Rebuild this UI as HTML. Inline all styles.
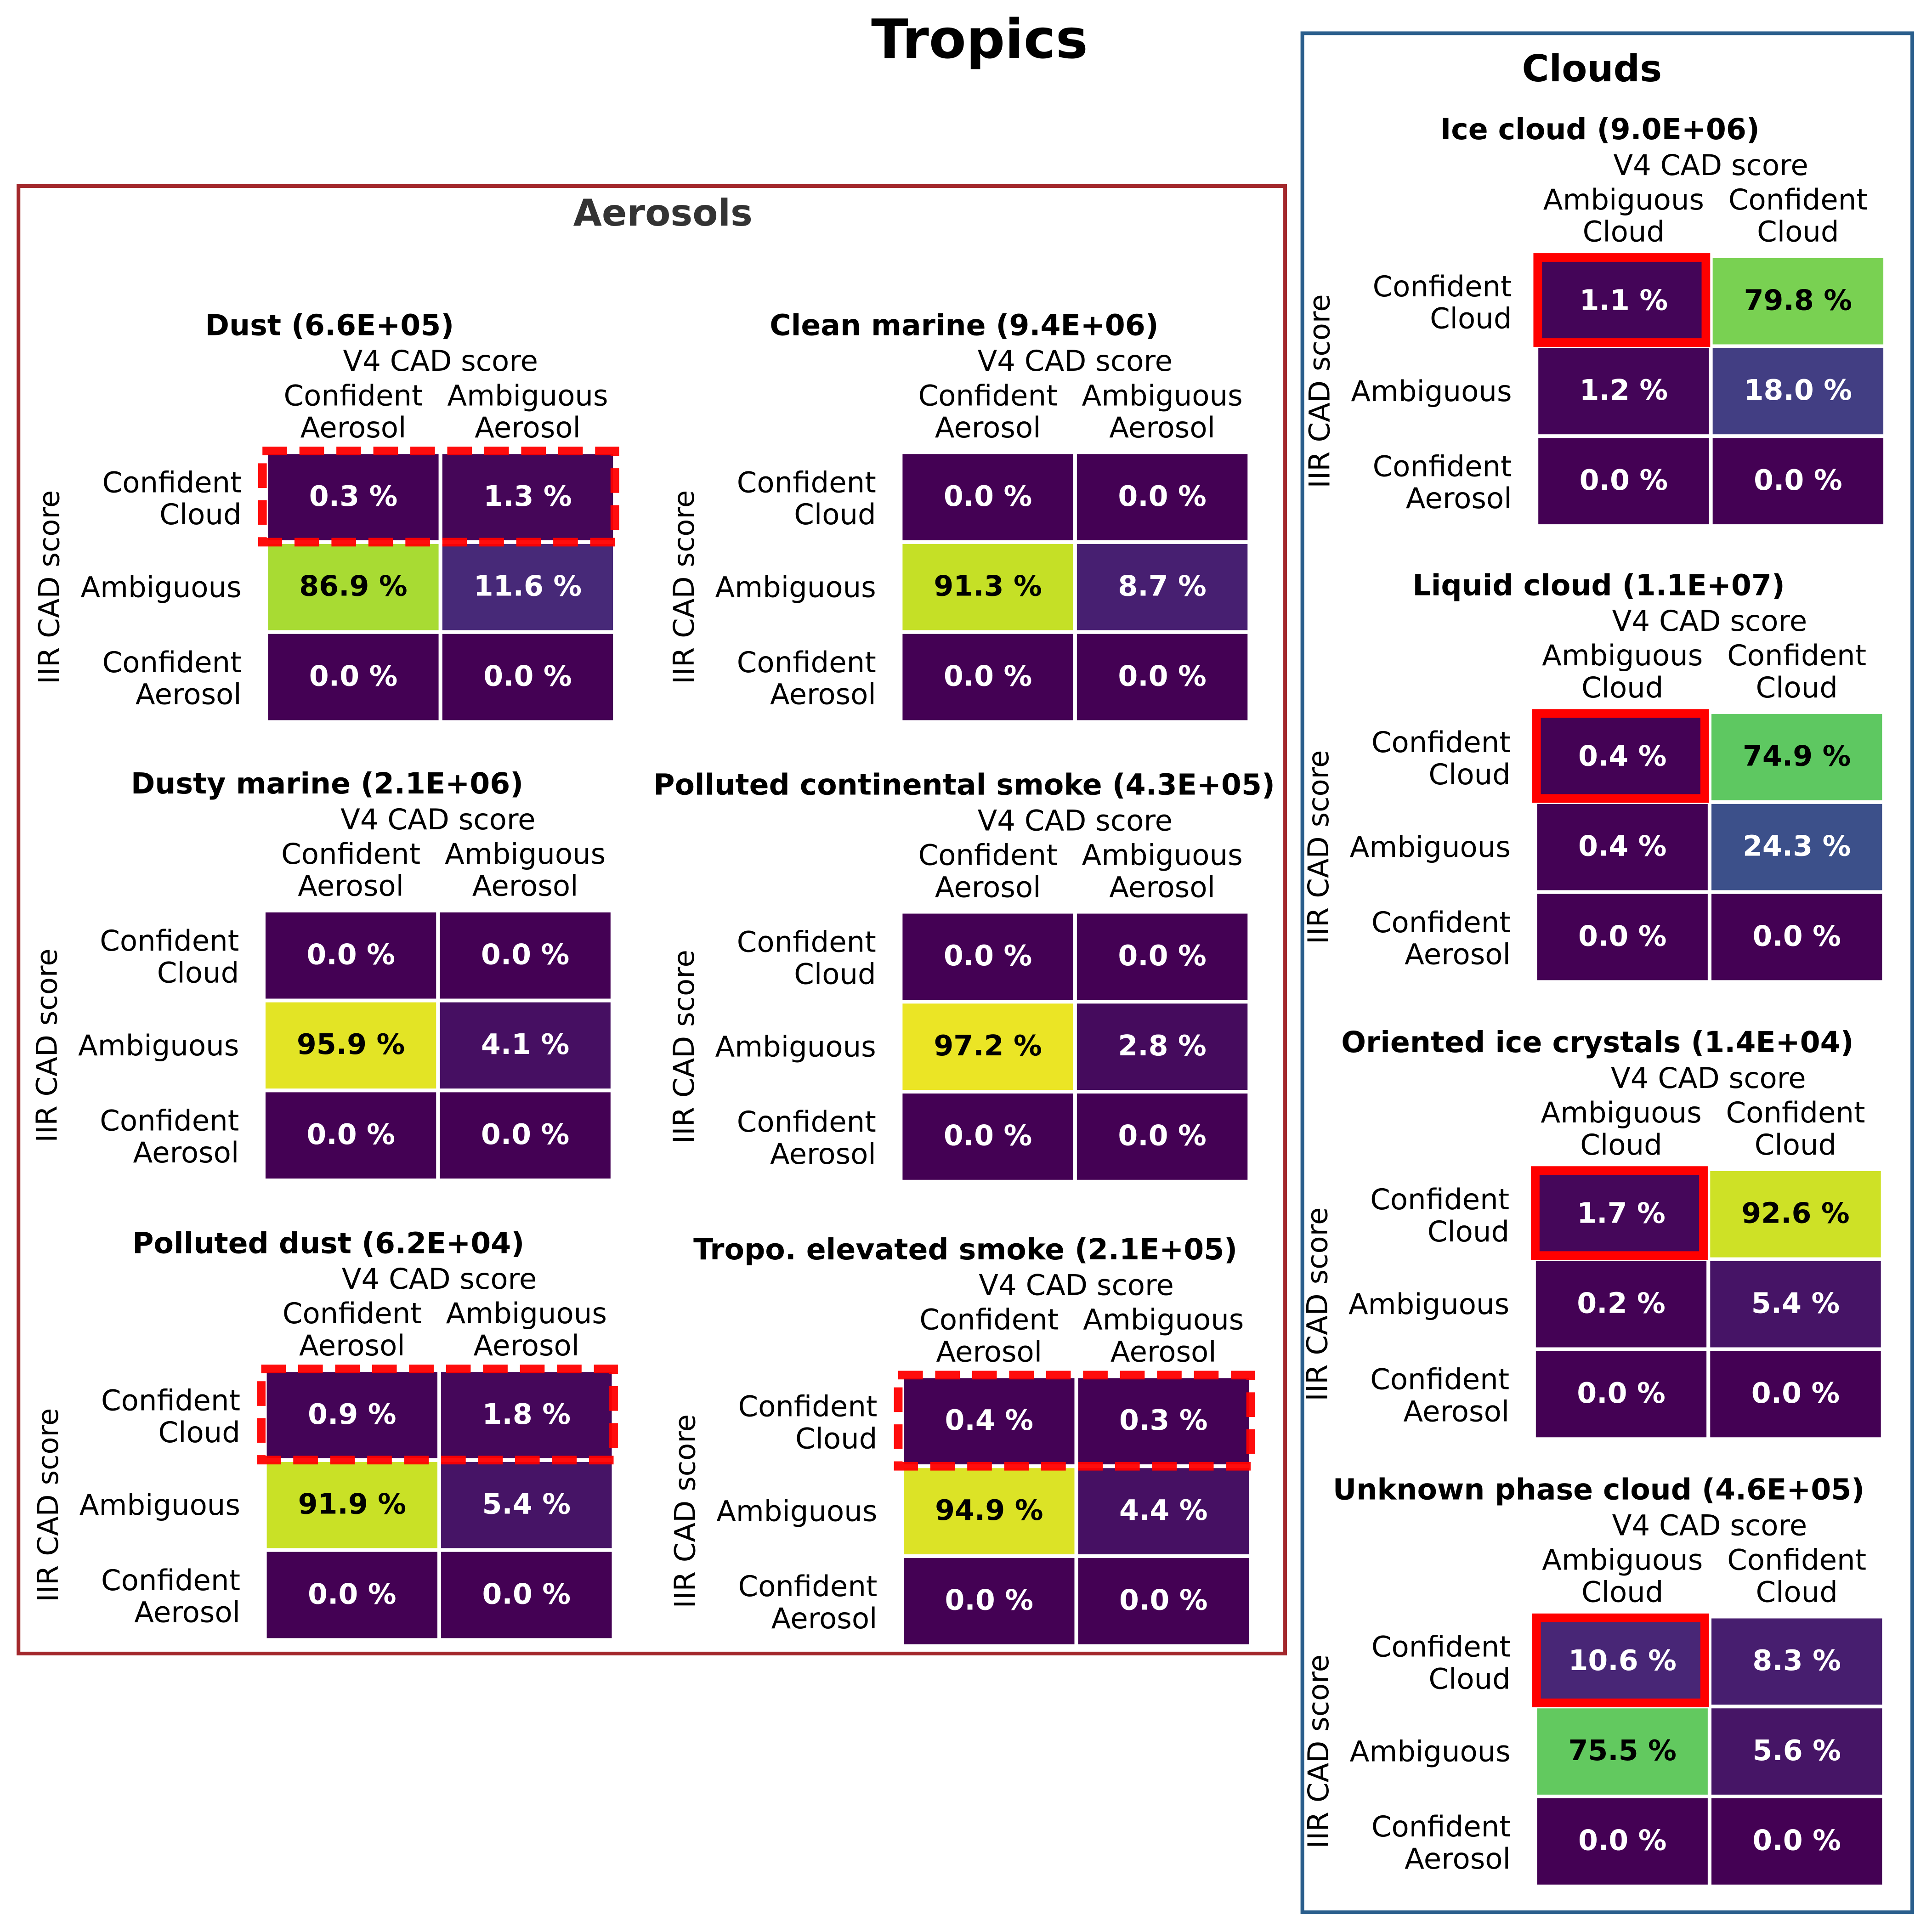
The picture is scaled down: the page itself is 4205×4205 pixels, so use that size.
<!DOCTYPE html>
<html><head><meta charset="utf-8"><style>
html,body{margin:0;padding:0;background:#fff;}
svg{display:block;}
text{font-family:"DejaVu Sans","Liberation Sans",sans-serif;}
</style></head><body>
<svg id="fig" width="4205" height="4205" viewBox="0 0 1568 1568" xmlns="http://www.w3.org/2000/svg">
<rect x="0" y="0" width="1568" height="1568" fill="#fff"/>
<text x="795" y="47" font-size="44" font-weight="bold" text-anchor="middle">Tropics</text>
<rect x="15" y="151" width="1028" height="1191" fill="none" stroke="#a3282c" stroke-width="3"/>
<text x="538" y="183" font-size="30" font-weight="bold" fill="#333" text-anchor="middle">Aerosols</text>
<rect x="1057" y="27" width="495" height="1525" fill="none" stroke="#2a5e8c" stroke-width="3"/>
<text x="1292" y="66" font-size="30" font-weight="bold" text-anchor="middle">Clouds</text>
<g id="panels"></g>
</svg>
<script>
const panelTitles = ["Dust (6.6E+05)","Clean marine (9.4E+06)","Dusty marine (2.1E+06)","Polluted continental smoke (4.3E+05)","Polluted dust (6.2E+04)","Tropo. elevated smoke (2.1E+05)","Ice cloud (9.0E+06)","Liquid cloud (1.1E+07)","Oriented ice crystals (1.4E+04)","Unknown phase cloud (4.6E+05)"];
const panelValues = [
  [[0.3,1.3],[86.9,11.6],[0.0,0.0]],
  [[0.0,0.0],[91.3,8.7],[0.0,0.0]],
  [[0.0,0.0],[95.9,4.1],[0.0,0.0]],
  [[0.0,0.0],[97.2,2.8],[0.0,0.0]],
  [[0.9,1.8],[91.9,5.4],[0.0,0.0]],
  [[0.4,0.3],[94.9,4.4],[0.0,0.0]],
  [[1.1,79.8],[1.2,18.0],[0.0,0.0]],
  [[0.4,74.9],[0.4,24.3],[0.0,0.0]],
  [[1.7,92.6],[0.2,5.4],[0.0,0.0]],
  [[10.6,8.3],[75.5,5.6],[0.0,0.0]]
];
const aerosolCols = [["Confident","Aerosol"],["Ambiguous","Aerosol"]];
const cloudCols = [["Ambiguous","Cloud"],["Confident","Cloud"]];
const rowLabels = [["Confident","Cloud"],["Ambiguous"],["Confident","Aerosol"]];
const panelKind = ["dash","none","none","none","dash","dash","solid","solid","solid","solid"];

const layout = [[216,367],[731,367],[214,739],[731,740],[215,1112],[732,1117],[1247,208],[1246,578],[1245,949],[1246,1312]];
const CW=141.5, CH=73, FS=23.3;
const vir=["#440154","#482475","#414487","#355f8d","#2a788e","#21918c","#22a884","#44bf70","#7ad151","#bddf26","#fde725"];
function hx(c){return [1,3,5].map(i=>parseInt(c.substr(i,2),16));}
function viridis(t){t=Math.max(0,Math.min(1,t));const f=t*10,i=Math.min(9,Math.floor(f)),r=f-i;const a=hx(vir[i]),b=hx(vir[i+1]);return "rgb("+a.map((v,k)=>Math.round(v+(b[k]-v)*r)).join(",")+")";}
const NS="http://www.w3.org/2000/svg";
const root=document.getElementById('panels');
function mk(tag,attrs,parent){const e=document.createElementNS(NS,tag);for(const k in attrs)e.setAttribute(k,attrs[k]);(parent||root).appendChild(e);return e;}
function txt(x,y,s,size,opts,parent){const e=mk('text',Object.assign({x:x,y:y,'font-size':size},opts||{}),parent);e.textContent=s;return e;}

panelTitles.forEach((title,p)=>{
  const [x0,y0]=layout[p];
  const g=mk('g',{});
  
  
  const W=2*CW, H=3*CH, cx=x0+W/2;
  const t=txt(cx-90,y0-95,title,23.6,{'font-weight':'bold','text-anchor':'middle'},g);
  
  
  const xl=txt(cx,y0-66,"V4 CAD score",FS,{'text-anchor':'middle'},g);
  
  
  const cols = p<6?aerosolCols:cloudCols;
  cols.forEach((lab,c)=>{
    const lx=x0+CW*c+CW/2;
    lab.forEach((s,k)=>{
      const e=txt(lx,y0-38+26*k,s,FS,{'text-anchor':'middle'},g);
      
      
    });
  });
  rowLabels.forEach((lab,r)=>{
    const cy=y0+CH*r+CH/2;
    lab.forEach((s,k)=>{
      const off=lab.length==1?8:(k==0?-4:22);
      const e=txt(x0-20,cy+off,s,FS,{'text-anchor':'end'},g);
      
      
    });
  });
  const yl=txt(0,0,"IIR CAD score",FS,{'text-anchor':'middle',transform:'translate('+(x0-168)+','+(y0+H/2)+') rotate(-90)'},g);
  
  
  panelValues[p].forEach((row,r)=>{
    row.forEach((v,c)=>{
      const rc=mk('rect',{x:x0+CW*c,y:y0+CH*r,width:CW,height:CH,fill:viridis(v/100),stroke:'#fff','stroke-width':3},g);
      
      
      const tv=txt(x0+CW*c+CW/2,y0+CH*r+CH/2+7,v.toFixed(1)+" %",23,{'font-weight':'bold','text-anchor':'middle',fill:v>50?'#000':'#fff'},g);
      
      
    });
  });
  if(panelKind[p]=="dash"){
    const d=mk('rect',{x:x0-3,y:y0-1,width:W+3,height:CH+1,fill:'none',stroke:'#ff0000','stroke-width':7,'stroke-dasharray':'20 10','stroke-opacity':0.95},g);
    
    
  } else if(panelKind[p]=="solid"){
    const d=mk('rect',{x:x0+1,y:y0+1,width:CW-5,height:CH-4,fill:'none',stroke:'#ff0000','stroke-width':7},g);
    
    
  }
});
</script>
</body></html>
